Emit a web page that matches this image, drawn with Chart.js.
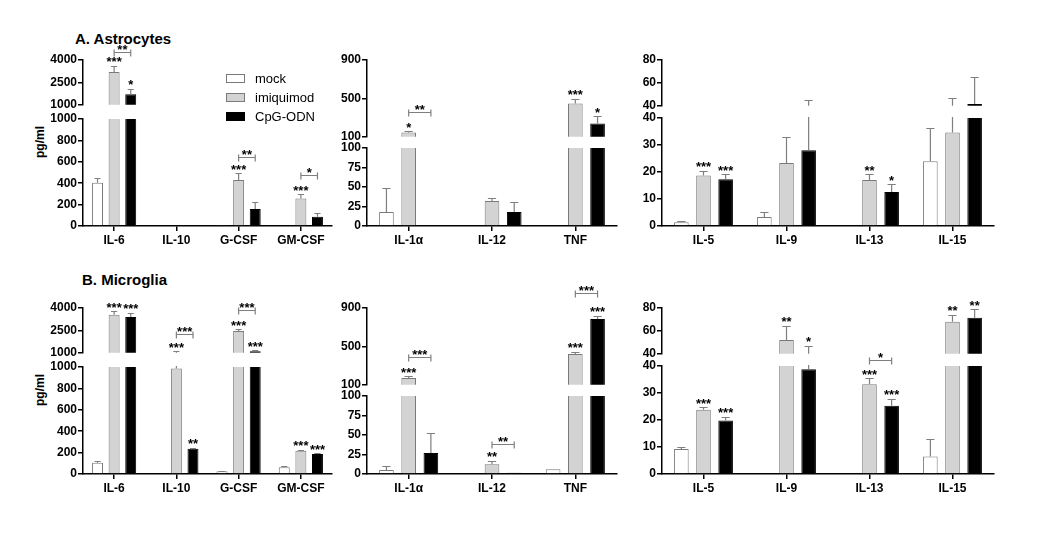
<!DOCTYPE html>
<html>
<head>
<meta charset="utf-8">
<script src="https://cdn.jsdelivr.net/npm/chart.js@4.4.0/dist/chart.umd.min.js"></script>
<style>
  body { margin: 0; background: #fff; }
  #wrap { position: relative; width: 1050px; height: 546px; overflow: hidden; font-family: "Liberation Sans", Arial, sans-serif; }
  #wrap canvas { position: absolute; }
  .title { position: absolute; font-weight: bold; font-size: 15px; color: #000; white-space: nowrap; }
  .ylab { position: absolute; width: 60px; height: 14px; line-height: 14px; text-align: center; font-weight: bold; font-size: 12px; transform: rotate(-90deg); }
</style>
</head>
<body>
<div id="wrap">
  <div class="title" style="left:75px;top:30px">A. Astrocytes</div>
  <div class="title" style="left:82px;top:271px">B. Microglia</div>
  <div class="ylab" style="left:10px;top:135px">pg/ml</div>
  <div class="ylab" style="left:10px;top:383px">pg/ml</div>
</div>
<script>
const treatments = ['mock', 'imiquimod', 'CpG-ODN'];
const cytokines1 = ['IL-6', 'IL-10', 'G-CSF', 'GM-CSF'];
const cytokines2 = ['IL-1α', 'IL-12', 'TNF'];
const cytokines3 = ['IL-5', 'IL-9', 'IL-13', 'IL-15'];

// tick labels of the lower / upper part of each broken y axis
const ticks1Low = [0, 200, 400, 600, 800, 1000];
const ticks1High = [1000, 2500, 4000];
const ticks2Low = [0, 25, 50, 75, 100];
const ticks2High = [100, 500, 900];
const ticks3Low = [0, 10, 20, 30, 40];
const ticks3High = [40, 60, 80];

// rows: mock, imiquimod, CpG-ODN
const astro1Mean = [[405, 0, 5, 0], [3200, 0, 430, 257], [1710, 0, 158, 87]];
const astro1Sem = [[45, 0, 0, 0], [430, 0, 65, 40], [377, 0, 62, 37]];
const astro2Mean = [[18, 0, 1], [145, 32, 448], [0, 18, 238]];
const astro2Sem = [[31, 0, 0], [11, 4, 49], [0, 13, 76]];
const astro3Mean = [[1.4, 3.3, 0.3, 24], [18.7, 23.3, 17, 34.6], [17.3, 28.1, 12.6, 41.5]];
const astro3Sem = [[0.6, 1.8, 0, 12.2], [1.7, 9.5, 2.1, 12], [1.8, 17.1, 2.9, 24]];

const micro1Mean = [[105, 0, 25, 62], [3540, 985, 2460, 218], [3400, 237, 1108, 188]];
const micro1Sem = [[12, 0, 4, 12], [250, 110, 110, 7], [270, 9, 62, 6]];
const micro2Mean = [[5, 0, 6], [170, 12.4, 420], [27, 1.7, 785]];
const micro2Sem = [[5, 0, 0], [21, 4.3, 25], [26, 0, 35]];
const micro3Mean = [[9.3, 0, 0, 6.5], [23.8, 52, 33.2, 68], [19.8, 38.8, 25.3, 71.5]];
const micro3Sem = [[0.7, 0, 0, 6.5], [0.9, 12.6, 2.2, 6], [1.4, 8.1, 2.6, 7.5]];

// significance over a bar: [category, treatment, text]
const astro1Stars = [[0, 1, '***'], [0, 2, '*'], [2, 1, '***'], [3, 1, '***']];
const astro2Stars = [[0, 1, '*'], [2, 1, '***'], [2, 2, '*']];
const astro3Stars = [[0, 1, '***'], [0, 2, '***'], [2, 1, '**'], [2, 2, '*']];
const micro1Stars = [[0, 1, '***'], [0, 2, '***'], [1, 1, '***'], [1, 2, '**'], [2, 1, '***'], [2, 2, '***'], [3, 1, '***'], [3, 2, '***']];
const micro2Stars = [[0, 1, '***'], [1, 1, '**'], [2, 1, '***'], [2, 2, '***']];
const micro3Stars = [[0, 1, '***'], [0, 2, '***'], [1, 1, '**'], [1, 2, '*'], [2, 1, '***'], [2, 2, '***'], [3, 1, '**'], [3, 2, '**']];

// imiquimod vs CpG-ODN brackets: [category, from, to, y value, text, axis part]
const astro1Brackets = [[0, 1, 2, 4560, '**', 'hi'], [2, 1, 2, 644, '**', 'lo'], [3, 1, 2, 474, '*', 'lo']];
const astro2Brackets = [[0, 1, 2, 355, '**', 'hi']];
const astro3Brackets = [];
const micro1Brackets = [[1, 1, 2, 2231, '***', 'hi'], [2, 1, 2, 3850, '***', 'hi']];
const micro2Brackets = [[0, 1, 2, 385, '***', 'hi'], [1, 1, 2, 38.6, '**', 'lo'], [2, 1, 2, 1053, '***', 'hi']];
const micro3Brackets = [[2, 1, 2, 42.2, '*', 'lo']];

const FONT = '"Liberation Sans", Arial, sans-serif';
Chart.defaults.font.family = FONT;
Chart.defaults.color = '#000';

const barStyles = [
	{ backgroundColor: '#ffffff', borderColor: '#7a7a7a' },
	{ backgroundColor: '#d3d3d3', borderColor: '#7a7a7a' },
	{ backgroundColor: '#000000', borderColor: '#000000' }
];

const AXW = 50, PADR = 4, HI_PADT = 30, HI_PADB = 8, LO_PADT = 50, XAXH = 26;

const sigPlugin = {
	id: 'sig',
	afterDatasetsDraw(chart, args, opts) {
		const ctx = chart.ctx, y = chart.scales.y, area = chart.chartArea;
		const hi = opts.seg === 'hi';
		const capOf = (c, d) => chart.data.datasets[d].data[c] + opts.sem[d][c];
		const inSeg = v => hi ? v > y.min : v <= y.max;

		// error bars, clipped to this part of the axis
		ctx.save();
		ctx.beginPath();
		ctx.rect(area.left, area.top - 1, area.right - area.left, area.bottom - area.top + 1);
		ctx.clip();
		ctx.strokeStyle = '#7f7f7f';
		ctx.lineWidth = 1.2;
		chart.data.datasets.forEach((ds, d) => {
			chart.getDatasetMeta(d).data.forEach((bar, c) => {
				const e = opts.sem[d][c];
				if (!e) return;
				const y0 = y.getPixelForValue(ds.data[c]);
				const y1 = Math.round(y.getPixelForValue(ds.data[c] + e)) + 0.5;
				const half = bar.width * 0.28;
				ctx.beginPath();
				ctx.moveTo(bar.x, y0);
				ctx.lineTo(bar.x, y1);
				ctx.moveTo(bar.x - half, y1);
				ctx.lineTo(bar.x + half, y1);
				ctx.stroke();
			});
		});
		ctx.restore();

		ctx.save();
		ctx.fillStyle = '#000';
		ctx.font = 'bold 13px ' + FONT;
		ctx.textAlign = 'center';
		ctx.textBaseline = 'alphabetic';
		opts.stars.forEach(([c, d, txt]) => {
			const cap = capOf(c, d);
			if (!inSeg(cap)) return;
			const bar = chart.getDatasetMeta(d).data[c];
			let py = y.getPixelForValue(cap) - 7;
			const nb = opts.stars.find(s => s[0] === c && s[1] === d + 1);
			if (nb && inSeg(capOf(c, d + 1))) {
				const nbPy = y.getPixelForValue(capOf(c, d + 1)) - 7;
				const gap = chart.getDatasetMeta(d + 1).data[c].x - bar.x;
				const need = (ctx.measureText(txt).width + ctx.measureText(nb[2]).width) / 2;
				if (gap < need + 1 && Math.abs(py - nbPy) < 10) py = Math.min(py, nbPy) - 7;
			}
			ctx.fillText(txt, bar.x, py + 7.5);
		});

		ctx.strokeStyle = '#7f7f7f';
		ctx.lineWidth = 1.2;
		opts.brackets.forEach(([c, a, b, v, txt, seg]) => {
			if (seg !== opts.seg) return;
			const xa = chart.getDatasetMeta(a).data[c].x;
			const xb = chart.getDatasetMeta(b).data[c].x;
			const py = Math.round(y.getPixelForValue(v)) + 0.5;
			ctx.beginPath();
			ctx.moveTo(xa, py - 3); ctx.lineTo(xa, py + 4);
			ctx.moveTo(xa, py); ctx.lineTo(xb, py);
			ctx.moveTo(xb, py - 3); ctx.lineTo(xb, py + 4);
			ctx.stroke();
			ctx.fillText(txt, (xa + xb) / 2, py - 6 + 7.5);
		});

		if (opts.legend) {
			const lx = area.left + 143, ly = area.top - 45;
			ctx.font = '13px ' + FONT;
			ctx.textAlign = 'left';
			ctx.textBaseline = 'middle';
			chart.data.datasets.forEach((ds, d) => {
				const by = Math.round(ly + d * 19.2);
				ctx.fillStyle = ds.backgroundColor;
				ctx.fillRect(lx, by, 19, 9);
				ctx.strokeStyle = ds.borderColor;
				ctx.lineWidth = 1;
				ctx.strokeRect(lx + 0.5, by + 0.5, 18, 8);
				ctx.fillStyle = '#000';
				ctx.fillText(ds.label, lx + 29, by + 5);
			});
		}
		ctx.restore();
	}
};

const wrap = document.getElementById('wrap');

function makeChart(p, seg) {
	const hi = seg === 'hi';
	const b = p.box;
	const top = hi ? b.hiTop - HI_PADT : b.loTop - LO_PADT;
	const h = hi ? HI_PADT + (b.hiBot - b.hiTop) + HI_PADB : LO_PADT + (b.loBot - b.loTop) + XAXH;
	const w = AXW + (b.x1 - b.x0) + PADR;
	const cv = document.createElement('canvas');
	cv.width = w;
	cv.height = h;
	cv.style.left = (b.x0 - AXW) + 'px';
	cv.style.top = top + 'px';
	wrap.appendChild(cv);

	const ticks = hi ? p.high : p.low;
	new Chart(cv, {
		type: 'bar',
		data: {
			labels: p.cats,
			datasets: treatments.map((t, d) => ({
				label: t,
				data: p.mean[d],
				backgroundColor: barStyles[d].backgroundColor,
				borderColor: barStyles[d].borderColor,
				borderWidth: 1,
				clip: 0,
				categoryPercentage: 0.8,
				barPercentage: 0.66
			}))
		},
		options: {
			responsive: false,
			animation: false,
			devicePixelRatio: 1,
			layout: { padding: { top: hi ? HI_PADT : LO_PADT, bottom: hi ? HI_PADB : 0, left: 0, right: PADR } },
			plugins: {
				legend: { display: false },
				tooltip: { enabled: false },
				sig: { seg: seg, sem: p.sem, stars: p.stars, brackets: p.brackets, legend: !hi && !!p.legend }
			},
			scales: {
				x: {
					display: !hi,
					grid: { display: true, drawOnChartArea: false, offset: false, tickLength: 5, color: '#000', lineWidth: 1.5 },
					border: { display: true, color: '#000', width: 1.5 },
					ticks: { color: '#000', font: { size: 12, weight: 'bold' }, padding: 2, maxRotation: 0, autoSkip: false },
					afterFit: s => { s.height = hi ? 0 : XAXH; }
				},
				y: {
					min: ticks[0],
					max: ticks[ticks.length - 1],
					afterBuildTicks: s => { s.ticks = ticks.map(v => ({ value: v })); },
					afterFit: s => { s.width = AXW; },
					grid: { display: true, drawOnChartArea: false, tickLength: 5, color: '#000', lineWidth: 1.5 },
					border: { display: true, color: '#000', width: 1.5 },
					ticks: { color: '#000', font: { size: 12, weight: 'bold' }, padding: 1, callback: v => String(v) }
				}
			}
		},
		plugins: [sigPlugin]
	});
}

function panel(p) {
	makeChart(p, 'hi');
	makeChart(p, 'lo');
}

const ROW_B = 248;
const box1 = { x0: 83, x1: 332, hiTop: 60, hiBot: 105, loTop: 119, loBot: 226 };
const box2 = { x0: 367, x1: 617, hiTop: 60, hiBot: 137, loTop: 148, loBot: 226 };
const box3 = { x0: 662, x1: 994, hiTop: 60, hiBot: 106, loTop: 118, loBot: 226 };
const shift = b => ({ x0: b.x0, x1: b.x1, hiTop: b.hiTop + ROW_B, hiBot: b.hiBot + ROW_B, loTop: b.loTop + ROW_B, loBot: b.loBot + ROW_B });

panel({ box: box1, cats: cytokines1, low: ticks1Low, high: ticks1High, mean: astro1Mean, sem: astro1Sem, stars: astro1Stars, brackets: astro1Brackets, legend: true });
panel({ box: box2, cats: cytokines2, low: ticks2Low, high: ticks2High, mean: astro2Mean, sem: astro2Sem, stars: astro2Stars, brackets: astro2Brackets });
panel({ box: box3, cats: cytokines3, low: ticks3Low, high: ticks3High, mean: astro3Mean, sem: astro3Sem, stars: astro3Stars, brackets: astro3Brackets });
panel({ box: shift(box1), cats: cytokines1, low: ticks1Low, high: ticks1High, mean: micro1Mean, sem: micro1Sem, stars: micro1Stars, brackets: micro1Brackets });
panel({ box: shift(box2), cats: cytokines2, low: ticks2Low, high: ticks2High, mean: micro2Mean, sem: micro2Sem, stars: micro2Stars, brackets: micro2Brackets });
panel({ box: shift(box3), cats: cytokines3, low: ticks3Low, high: ticks3High, mean: micro3Mean, sem: micro3Sem, stars: micro3Stars, brackets: micro3Brackets });
</script>
</body>
</html>
